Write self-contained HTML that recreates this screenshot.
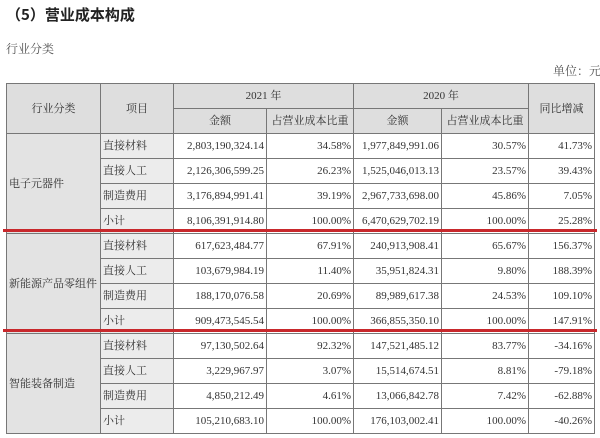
<!DOCTYPE html>
<html><head><meta charset="utf-8"><style>
body{margin:0;width:600px;height:438px;background:#fff;overflow:hidden;position:relative;font-family:"Liberation Serif","Noto Serif CJK SC",serif;color:#333}
.t{position:absolute;white-space:nowrap}
table{position:absolute;left:6px;top:83px;border-collapse:collapse;font-size:11px;table-layout:fixed}
td{border:1px solid #777;padding:0 2px;height:25px;line-height:12px;color:#333;white-space:nowrap;overflow:hidden;box-sizing:border-box}
.h{background:#dedede;text-align:center}
.g1{background:#e3e3e3}
.g2{background:#ececec}
.r{text-align:right}
.red{position:absolute;left:3px;width:594px;height:3px;background:#c8282c}
</style></head><body>
<div class="t" style="left:6px;top:4px;font-size:15px;font-weight:bold;font-family:'Noto Sans CJK SC',sans-serif;color:#222">（5）营业成本构成</div>
<div class="t" style="left:6px;top:40px;font-size:12px;color:#555">行业分类</div>
<div class="t" style="left:553px;top:62px;font-size:12px;color:#555">单位：元</div>
<table>
<colgroup><col style="width:94px"><col style="width:73px"><col style="width:93px"><col style="width:87px"><col style="width:88px"><col style="width:87px"><col style="width:66px"></colgroup>
<tr><td class="h" rowspan="2" style="height:47px">行业分类</td><td class="h" rowspan="2">项目</td><td class="h" colspan="2" style="height:23px">2021 年</td><td class="h" colspan="2">2020 年</td><td class="h" rowspan="2">同比增减</td></tr>
<tr><td class="h" style="height:24px">金额</td><td class="h">占营业成本比重</td><td class="h">金额</td><td class="h">占营业成本比重</td></tr>
<tr><td class="g1" rowspan="4">电子元器件</td><td class="g2">直接材料</td><td class="r">2,803,190,324.14</td><td class="r">34.58%</td><td class="r">1,977,849,991.06</td><td class="r">30.57%</td><td class="r">41.73%</td></tr>
<tr><td class="g2">直接人工</td><td class="r">2,126,306,599.25</td><td class="r">26.23%</td><td class="r">1,525,046,013.13</td><td class="r">23.57%</td><td class="r">39.43%</td></tr>
<tr><td class="g2">制造费用</td><td class="r">3,176,894,991.41</td><td class="r">39.19%</td><td class="r">2,967,733,698.00</td><td class="r">45.86%</td><td class="r">7.05%</td></tr>
<tr><td class="g2">小计</td><td class="r">8,106,391,914.80</td><td class="r">100.00%</td><td class="r">6,470,629,702.19</td><td class="r">100.00%</td><td class="r">25.28%</td></tr>
<tr><td class="g1" rowspan="4">新能源产品零组件</td><td class="g2">直接材料</td><td class="r">617,623,484.77</td><td class="r">67.91%</td><td class="r">240,913,908.41</td><td class="r">65.67%</td><td class="r">156.37%</td></tr>
<tr><td class="g2">直接人工</td><td class="r">103,679,984.19</td><td class="r">11.40%</td><td class="r">35,951,824.31</td><td class="r">9.80%</td><td class="r">188.39%</td></tr>
<tr><td class="g2">制造费用</td><td class="r">188,170,076.58</td><td class="r">20.69%</td><td class="r">89,989,617.38</td><td class="r">24.53%</td><td class="r">109.10%</td></tr>
<tr><td class="g2">小计</td><td class="r">909,473,545.54</td><td class="r">100.00%</td><td class="r">366,855,350.10</td><td class="r">100.00%</td><td class="r">147.91%</td></tr>
<tr><td class="g1" rowspan="4">智能装备制造</td><td class="g2">直接材料</td><td class="r">97,130,502.64</td><td class="r">92.32%</td><td class="r">147,521,485.12</td><td class="r">83.77%</td><td class="r">-34.16%</td></tr>
<tr><td class="g2">直接人工</td><td class="r">3,229,967.97</td><td class="r">3.07%</td><td class="r">15,514,674.51</td><td class="r">8.81%</td><td class="r">-79.18%</td></tr>
<tr><td class="g2">制造费用</td><td class="r">4,850,212.49</td><td class="r">4.61%</td><td class="r">13,066,842.78</td><td class="r">7.42%</td><td class="r">-62.88%</td></tr>
<tr><td class="g2">小计</td><td class="r">105,210,683.10</td><td class="r">100.00%</td><td class="r">176,103,002.41</td><td class="r">100.00%</td><td class="r">-40.26%</td></tr>
</table>
<div class="red" style="top:229px"></div>
<div class="red" style="top:329px"></div>
</body></html>
